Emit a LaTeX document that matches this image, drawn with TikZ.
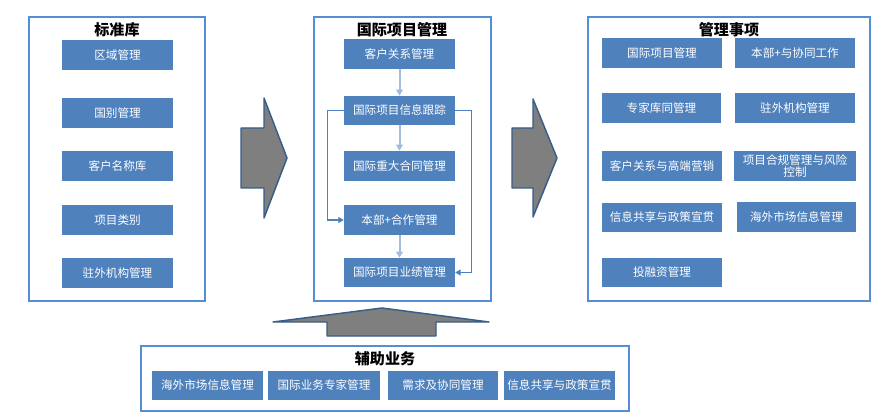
\documentclass[tikz,border=0pt]{standalone}
\usepackage{fontspec}
\setmainfont{Noto Sans CJK SC}
\usetikzlibrary{arrows.meta}
\definecolor{boxblue}{HTML}{4F81BD}
\definecolor{frameblue}{HTML}{558ED5}
\definecolor{arrowgray}{HTML}{7F7F7F}
\definecolor{arrowedge}{HTML}{385D8A}
\definecolor{flowblue}{HTML}{A3BCDD}
\tikzset{
  box/.style={fill=boxblue, text=white, inner sep=1pt, align=center, font=\fontsize{8.7pt}{10pt}\selectfont},
  frame/.style={draw=frameblue, line width=1.3pt},
  title/.style={font=\fontsize{11.3pt}{13pt}\selectfont\bfseries, text=black},
  bigarrow/.style={fill=arrowgray, draw=arrowedge, line width=1.1pt, line join=round},
  flow/.style={draw=flowblue, line width=1.5pt, -{Triangle[length=4.5pt,width=5pt]}},
  fb/.style={draw=boxblue, line width=0.8pt, -{Triangle[length=4pt,width=4.5pt]}}
}
\newcommand{\mybox}[6]{\node[box, minimum width={(#4-#2)*0.75pt}, minimum height={(#5-#3)*0.75pt}, text width={(#4-#2-6)*0.75pt}] (#1) at ({(#2+#4)/2},{(#3+#5)/2}) {#6};}
\begin{document}
\begin{tikzpicture}[x=0.75pt, y=-0.75pt]
\useasboundingbox (0,0) rectangle (892,420);
% frames
\draw[frame] (29,17) rectangle (205,301);
\draw[frame] (314,17) rectangle (491,301);
\draw[frame] (588,17) rectangle (870,301);
\draw[frame] (141,346) rectangle (629,411);
% titles
\node[title] (t1) at (117,30) {标准库};
\node[title] (t2) at (402,30) {国际项目管理};
\node[title] (t3) at (729,30) {管理事项};
\node[title] (t4) at (385,359) {辅助业务};
% left boxes
\mybox{l1}{62}{40}{173}{70}{区域管理}
\mybox{l2}{62}{98}{173}{128}{国别管理}
\mybox{l3}{62}{151}{173}{181}{客户名称库}
\mybox{l4}{62}{205}{173}{235}{项目类别}
\mybox{l5}{62}{258}{173}{288}{驻外机构管理}
% middle boxes
\mybox{m1}{344}{39}{455}{69}{客户关系管理}
\mybox{m2}{344}{96}{455}{125}{国际项目信息跟踪}
\mybox{m3}{344}{151}{455}{181}{国际重大合同管理}
\mybox{m4}{344}{205}{455}{235}{本部+合作管理}
\mybox{m5}{344}{258}{455}{287}{国际项目业绩管理}
\draw[flow] (m1.south) -- (m2.north);
\draw[flow] (m2.south) -- (m3.north);
\draw[flow] (m4.south) -- (m5.north);
\draw[fb] (m2.west) -- ++(-16,0) |- (m4.west);
\draw[fb] (m2.east) -- ++(16,0) |- (m5.east);
% right boxes
\mybox{r1}{602}{38}{722}{68}{国际项目管理}
\mybox{r2}{735}{38}{855}{68}{本部+与协同工作}
\mybox{r3}{602}{93}{721}{123}{专家库同管理}
\mybox{r4}{735}{93}{855}{123}{驻外机构管理}
\mybox{r5}{602}{151}{722}{181}{客户关系与高端营销}
\node[box, minimum width={120*0.75pt}, minimum height={30*0.75pt}, text width={120*0.75pt}, font=\fontsize{8.7pt}{9.6pt}\selectfont] (r6) at (795,166) {项目合规管理与风险\\控制};
\mybox{r7}{602}{203}{722}{232}{信息共享与政策宣贯}
\mybox{r8}{737}{202}{856}{232}{海外市场信息管理}
\mybox{r9}{602}{258}{722}{287}{投融资管理}
% bottom boxes
\mybox{b1}{152}{371}{263}{400}{海外市场信息管理}
\mybox{b2}{268}{371}{380}{400}{国际业务专家管理}
\mybox{b3}{388}{371}{498}{400}{需求及协同管理}
\mybox{b4}{504}{371}{615}{400}{信息共享与政策宣贯}
% big arrows
\draw[bigarrow] (241,128) -- (264,128) -- (264,98) -- (287,158) -- (264,218) -- (264,188) -- (241,188) -- cycle;
\draw[bigarrow] (512,128) -- (533,128) -- (533,99) -- (557,158) -- (533,217) -- (533,188) -- (512,188) -- cycle;
\draw[bigarrow] (327,336) -- (327,322) -- (273,322) -- (382,308) -- (489,322) -- (436,322) -- (436,336) -- cycle;
\end{tikzpicture}
\end{document}
